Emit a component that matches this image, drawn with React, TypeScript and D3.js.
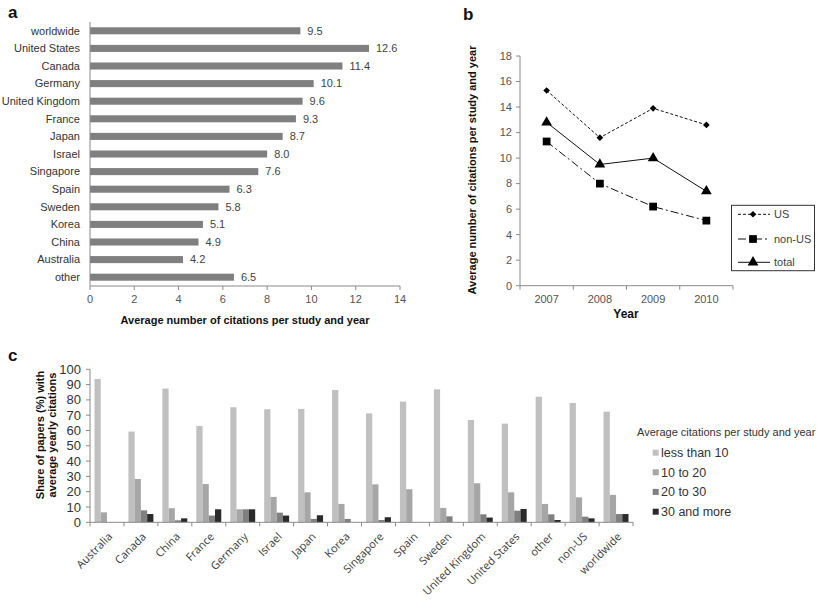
import React from "react";
import * as d3 from "d3";

// ---------- Panel a data ----------
const aCategories = ["worldwide", "United States", "Canada", "Germany", "United Kingdom", "France", "Japan", "Israel", "Singapore", "Spain", "Sweden", "Korea", "China", "Australia", "other"];
const aValues = [9.5, 12.6, 11.4, 10.1, 9.6, 9.3, 8.7, 8.0, 7.6, 6.3, 5.8, 5.1, 4.9, 4.2, 6.5];
const aTicks = [0, 2, 4, 6, 8, 10, 12, 14];

// ---------- Panel b data ----------
const bYears = ["2007", "2008", "2009", "2010"];
const bUS = [15.3, 11.6, 13.9, 12.6];
const bNonUS = [11.3, 8.0, 6.2, 5.1];
const bTotal = [12.8, 9.5, 10.0, 7.4];
const bTicks = [0, 2, 4, 6, 8, 10, 12, 14, 16, 18];

// ---------- Panel c data ----------
const cCategories = ["Australia", "Canada", "China", "France", "Germany", "Israel", "Japan", "Korea", "Singapore", "Spain", "Sweden", "United Kingdom", "United States", "other", "non-US", "worldwide"];
const cLess10 = [93.7, 59.3, 87.4, 63.0, 75.2, 73.9, 74.1, 86.5, 71.2, 78.9, 86.9, 66.9, 64.5, 82.1, 78.0, 72.3];
const c10to20 = [6.5, 28.3, 9.2, 25.0, 8.5, 16.6, 19.6, 12.0, 24.8, 21.6, 9.4, 25.5, 19.6, 12.0, 16.3, 17.9];
const c20to30 = [0, 7.8, 1.3, 4.4, 8.5, 6.3, 2.2, 2.2, 1.5, 0, 3.9, 5.2, 7.6, 5.2, 3.7, 5.4];
const c30plus = [0, 5.4, 2.6, 8.5, 8.5, 4.4, 4.6, 0, 3.3, 0, 0, 3.1, 8.7, 1.5, 2.6, 5.4];
const cSeriesNames = ["less than 10", "10 to 20", "20 to 30", "30 and more"];
const cTicks = [0, 10, 20, 30, 40, 50, 60, 70, 80, 90, 100];

const FONT = "'Liberation Sans', Arial, sans-serif";
const AXIS = "#8a8a8a";

function PanelA() {
  const x = d3.scaleLinear().domain([0, 14]).range([90, 400]);
  const y = d3.scaleBand<string>().domain(aCategories).range([22, 286]).paddingInner(0.6).paddingOuter(0.3);
  const y0 = 286;
  return (
    <g fontFamily={FONT}>
      <text x={8} y={18} fontSize={17} fontWeight="bold" fill="#111">a</text>
      {aCategories.map((c, i) => (
        <g key={c}>
          <rect x={x(0)} y={y(c)!} width={x(aValues[i]) - x(0)} height={y.bandwidth()} fill="#7f7f7f" />
          <text x={x(aValues[i]) + 7} y={y(c)! + y.bandwidth() / 2} dy="0.35em" fontSize={11} fill="#444">{aValues[i].toFixed(1)}</text>
          <text x={80} y={y(c)! + y.bandwidth() / 2} dy="0.35em" fontSize={11} fill="#333" textAnchor="end">{c}</text>
        </g>
      ))}
      <line x1={x(0)} x2={x(0)} y1={22} y2={y0} stroke={AXIS} />
      <line x1={x(0)} x2={x(14)} y1={y0} y2={y0} stroke={AXIS} />
      {aTicks.map((t) => (
        <g key={t}>
          <line x1={x(t)} x2={x(t)} y1={y0} y2={y0 + 4} stroke={AXIS} />
          <text x={x(t)} y={y0 + 17} fontSize={11} fill="#555" textAnchor="middle">{t}</text>
        </g>
      ))}
      <text x={245} y={324} fontSize={11} fontWeight="bold" fill="#111" textAnchor="middle">Average number of citations per study and year</text>
    </g>
  );
}

function PanelB() {
  const x = d3.scaleBand<string>().domain(bYears).range([520, 733]);
  const y = d3.scaleLinear().domain([0, 18]).range([285.7, 56]);
  const cx = (yr: string) => x(yr)! + x.bandwidth() / 2;
  const line = d3.line<number>().x((_, i) => cx(bYears[i])).y((v) => y(v));
  const diamond = d3.symbol().type(d3.symbolSquare).size(22)()!;
  const square = d3.symbol().type(d3.symbolSquare).size(60)()!;
  const tri = d3.symbol().type(d3.symbolTriangle).size(50)()!;
  const series = [
    { name: "US", vals: bUS, dash: "3,2", sym: diamond, rot: 45 },
    { name: "non-US", vals: bNonUS, dash: "8,3,2,3", sym: square, rot: 0 },
    { name: "total", vals: bTotal, dash: "none", sym: tri, rot: 0 },
  ];
  const legY = [214.3, 239, 262.3];
  return (
    <g fontFamily={FONT}>
      <text x={463} y={20} fontSize={17} fontWeight="bold" fill="#111">b</text>
      <line x1={520} x2={520} y1={y(18)} y2={y(0)} stroke={AXIS} />
      <line x1={520} x2={733} y1={y(0)} y2={y(0)} stroke={AXIS} />
      {bTicks.map((t) => (
        <g key={t}>
          <line x1={516} x2={520} y1={y(t)} y2={y(t)} stroke={AXIS} />
          <text x={512} y={y(t)} dy="0.35em" fontSize={11} fill="#555" textAnchor="end">{t}</text>
        </g>
      ))}
      {bYears.map((yr) => (
        <g key={yr}>
          <line x1={x(yr)!} x2={x(yr)!} y1={y(0)} y2={y(0) + 4} stroke={AXIS} />
          <text x={cx(yr)} y={y(0) + 17} fontSize={11} fill="#555" textAnchor="middle">{yr}</text>
        </g>
      ))}
      <line x1={733} x2={733} y1={y(0)} y2={y(0) + 4} stroke={AXIS} />
      {series.map((s) => (
        <g key={s.name}>
          <path d={line(s.vals)!} fill="none" stroke="#111" strokeWidth={1} strokeDasharray={s.dash} />
          {s.vals.map((v, i) => (
            <path key={i} d={s.sym} transform={`translate(${cx(bYears[i])},${y(v)}) rotate(${s.rot})`} fill="#000" />
          ))}
        </g>
      ))}
      <text transform="translate(476,170) rotate(-90)" fontSize={11} fontWeight="bold" fill="#111" textAnchor="middle">Average number of citations per study and year</text>
      <text x={626} y={318} fontSize={12} fontWeight="bold" fill="#111" textAnchor="middle">Year</text>
      <rect x={731.5} y={205.3} width={83} height={65.4} fill="#fff" stroke="#333" />
      {series.map((s, i) => (
        <g key={s.name}>
          <line x1={738} x2={770} y1={legY[i]} y2={legY[i]} stroke="#111" strokeDasharray={s.dash} />
          <path d={s.sym} transform={`translate(753,${legY[i]}) rotate(${s.rot})`} fill="#000" />
          <text x={774} y={legY[i]} dy="0.35em" fontSize={11} fill="#444">{s.name}</text>
        </g>
      ))}
    </g>
  );
}

function PanelC() {
  const x = d3.scaleBand<string>().domain(cCategories).range([90, 633]);
  const inner = d3.scaleBand<string>().domain(cSeriesNames).range([4.5, x.bandwidth() - 4.5]);
  const y = d3.scaleLinear().domain([0, 100]).range([522.3, 369.3]);
  const colors = d3.scaleOrdinal<string, string>().domain(cSeriesNames).range(["#c0c0c0", "#a6a6a6", "#7f7f7f", "#2a2a2a"]);
  const data = [cLess10, c10to20, c20to30, c30plus];
  const legRows = [452.7, 472.3, 491.9, 511.7];
  return (
    <g fontFamily={FONT}>
      <text x={8} y={361} fontSize={17} fontWeight="bold" fill="#111">c</text>
      {cCategories.map((c, ci) => (
        <g key={c}>
          {cSeriesNames.map((s, si) => (
            <rect key={s} x={x(c)! + inner(s)!} y={y(data[si][ci])} width={inner.bandwidth()} height={y(0) - y(data[si][ci])} fill={colors(s)} />
          ))}
          <text transform={`translate(${x(c)! + x.bandwidth() / 2 + 6},${y(0) + 15}) rotate(-45)`} fontSize={11} fontFamily="'Open Sans', sans-serif" fill="#3a3a3a" textAnchor="end">{c}</text>
        </g>
      ))}
      <line x1={90} x2={90} y1={y(100)} y2={y(0)} stroke={AXIS} />
      <line x1={90} x2={633} y1={y(0)} y2={y(0)} stroke={AXIS} />
      {cCategories.map((c) => (
        <line key={c} x1={x(c)!} x2={x(c)!} y1={y(0)} y2={y(0) + 4} stroke={AXIS} />
      ))}
      <line x1={633} x2={633} y1={y(0)} y2={y(0) + 4} stroke={AXIS} />
      {cTicks.map((t) => (
        <g key={t}>
          <line x1={86} x2={90} y1={y(t)} y2={y(t)} stroke={AXIS} />
          <text x={81} y={y(t)} dy="0.35em" fontSize={13} fill="#333" textAnchor="end">{t}</text>
        </g>
      ))}
      <text transform="translate(44,435) rotate(-90)" fontSize={11} fontWeight="bold" fill="#111" textAnchor="middle">Share of papers (%) with</text>
      <text transform="translate(55.5,435) rotate(-90)" fontSize={11} fontWeight="bold" fill="#111" textAnchor="middle">average yearly citations</text>
      <text x={637} y={436} fontSize={11} fill="#333">Average citations per study and year</text>
      {cSeriesNames.map((s, i) => (
        <g key={s}>
          <rect x={652.7} y={legRows[i] - 3} width={6} height={6} fill={colors(s)} />
          <text x={661} y={legRows[i]} dy="0.35em" fontSize={12.5} fill="#333">{s}</text>
        </g>
      ))}
    </g>
  );
}

export default function App() {
  return (
    <svg width={823} height={600} style={{ position: "absolute", left: 0, top: 0, background: "#fff" }}>
      <rect width={823} height={600} fill="#fff" />
      <PanelA />
      <PanelB />
      <PanelC />
    </svg>
  );
}
